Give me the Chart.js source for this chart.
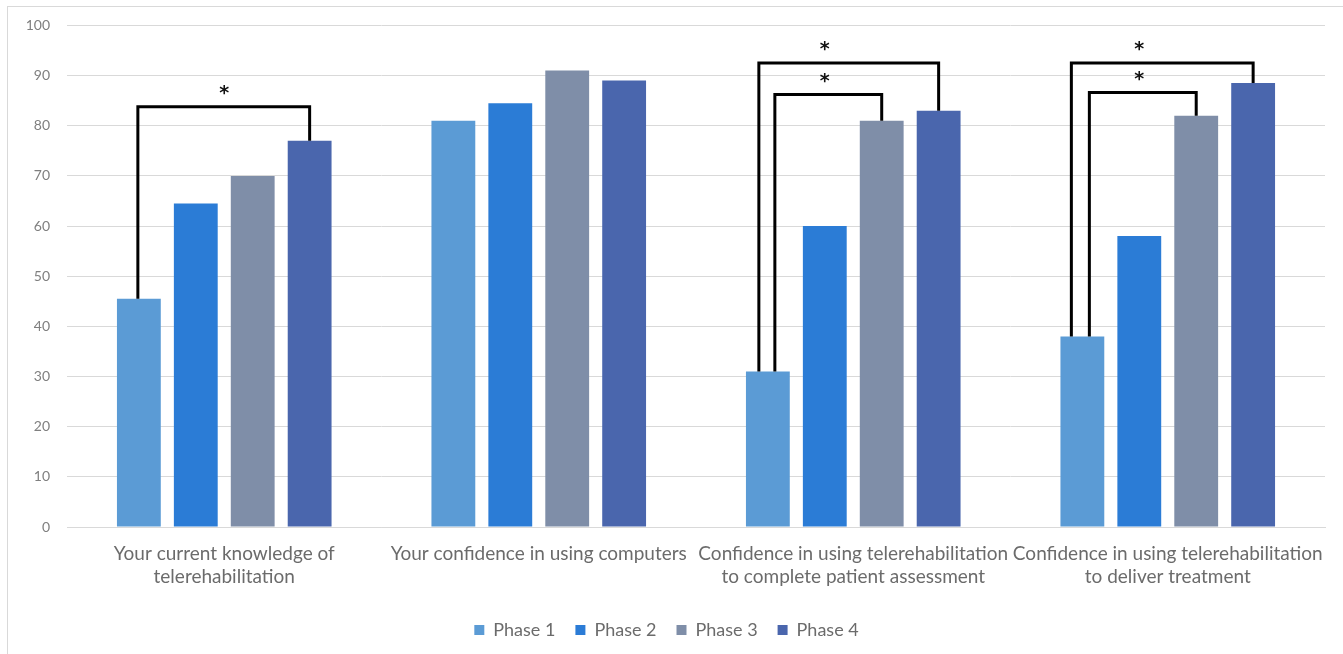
<!DOCTYPE html>
<html>
<head>
<meta charset="utf-8">
<script src="https://cdn.jsdelivr.net/npm/chart.js@4/dist/chart.umd.min.js"></script>
<style>
  html, body { margin: 0; padding: 0; background: #ffffff; }
  #wrap { position: relative; width: 1343px; height: 654px; }
  #frame { position: absolute; left: 7px; top: 6px; width: 1400px; height: 700px; border-left: 1px solid #d9d9d9; border-top: 1px solid #d9d9d9; }
</style>
</head>
<body>
<div id="wrap">
  <div id="frame"></div>
  <canvas id="barChart" width="1343" height="654"></canvas>
</div>
<script>
// Survey items (x categories, two lines each)
const categories = [
    ['Your current knowledge of', 'telerehabilitation'],
    'Your confidence in using computers',
    ['Confidence in using telerehabilitation', 'to complete patient assessment'],
    ['Confidence in using telerehabilitation', 'to deliver treatment']
];

// Mean scores per phase
const phaseLabels = ['Phase 1', 'Phase 2', 'Phase 3', 'Phase 4'];
const phase1 = [45.5, 81, 31, 38];
const phase2 = [64.5, 84.5, 60, 58];
const phase3 = [70, 91, 81, 82];
const phase4 = [77, 89, 83, 88.5];
const phaseColors = ['#5b9bd5', '#2b7cd6', '#7f8ea8', '#4a66ad'];

// Y axis ticks
const yTicks = [0, 10, 20, 30, 40, 50, 60, 70, 80, 90, 100];

// Significance brackets: category, from phase, to phase, bracket height, leg shift on the "from" bar, star position (phase index)
const bracketCategory = [0, 2, 2, 3, 3];
const bracketFrom     = [0, 0, 0, 0, 0];
const bracketTo       = [3, 3, 2, 3, 2];
const bracketHeight   = [83.8, 92.5, 86.2, 92.5, 86.6];
const bracketShift    = [-1, -9, 7, -11, 7];
const starAt          = [1.5, 1, 1, 1, 1];

const allPhases = [phase1, phase2, phase3, phase4];

// draws the black brackets and asterisks on top of the bars
const bracketPlugin = {
    id: 'brackets',
    afterDatasetsDraw(chart) {
        const ctx = chart.ctx;
        const y = chart.scales.y;
        ctx.save();
        ctx.strokeStyle = '#000000';
        ctx.lineWidth = 3;
        ctx.lineJoin = 'miter';
        ctx.fillStyle = '#111111';
        ctx.font = 'bold 19px "DejaVu Sans"';
        ctx.textAlign = 'center';
        ctx.textBaseline = 'middle';
        bracketCategory.forEach(function(cat, i) {
            const fromBar = chart.getDatasetMeta(bracketFrom[i]).data[cat];
            const toBar = chart.getDatasetMeta(bracketTo[i]).data[cat];
            const x1 = fromBar.x + bracketShift[i];
            const x2 = toBar.x;
            const yTop = y.getPixelForValue(bracketHeight[i]);
            const y1 = y.getPixelForValue(allPhases[bracketFrom[i]][cat]);
            const y2 = y.getPixelForValue(allPhases[bracketTo[i]][cat]);
            ctx.beginPath();
            ctx.moveTo(x1, y1);
            ctx.lineTo(x1, yTop);
            ctx.lineTo(x2, yTop);
            ctx.lineTo(x2, y2);
            ctx.stroke();

            // star sits between bars, a little above the bracket
            const lo = Math.floor(starAt[i]);
            const hi = Math.ceil(starAt[i]);
            const xa = chart.getDatasetMeta(lo).data[cat].x;
            const xb = chart.getDatasetMeta(hi).data[cat].x;
            const sx = xa + (xb - xa) * (starAt[i] - lo);
            ctx.fillText('*', sx, yTop - 13);
        });
        ctx.restore();
    }
};

const ctx = document.getElementById('barChart').getContext('2d');
const barChart = new Chart(ctx, {
    type: 'bar',
    data: {
        labels: categories,
        datasets: allPhases.map(function(values, i) {
            return {
                label: phaseLabels[i],
                data: values,
                backgroundColor: phaseColors[i],
                borderWidth: 0,
                categoryPercentage: 0.724,
                barPercentage: 0.77
            };
        })
    },
    options: {
        responsive: false,
        animation: false,
        devicePixelRatio: 1,
        layout: {
            padding: { left: 8, right: 18, top: 22, bottom: 5 }
        },
        scales: {
            x: {
                grid: { display: false },
                border: { color: '#d9d9d9', width: 1 },
                ticks: {
                    color: '#6b6b6b',
                    font: { family: 'Lato', size: 19, lineHeight: 1.22 },
                    padding: 7,
                    maxRotation: 0,
                    autoSkip: false
                },
                afterFit: function(scale) { scale.height = 74; }
            },
            y: {
                min: 0,
                max: 100,
                afterBuildTicks: function(scale) {
                    scale.ticks = yTicks.map(v => ({ value: v }));
                },
                grid: { color: '#d9d9d9', lineWidth: 1, drawTicks: false },
                border: { display: false },
                ticks: {
                    color: '#7f7f7f',
                    font: { family: 'Lato', size: 14 },
                    padding: 17
                },
                afterFit: function(scale) { scale.width = 59; }
            }
        },
        plugins: {
            legend: {
                position: 'bottom',
                labels: {
                    color: '#6b6b6b',
                    font: { family: 'Lato', size: 18 },
                    boxWidth: 10,
                    boxHeight: 10,
                    padding: 20
                }
            },
            tooltip: { enabled: false }
        }
    },
    plugins: [bracketPlugin]
});
</script>
</body>
</html>
